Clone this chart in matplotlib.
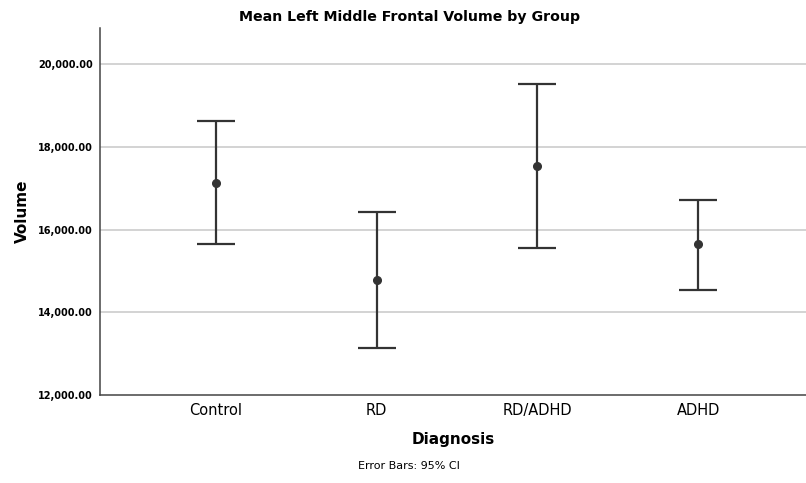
import matplotlib.pyplot as plt
from matplotlib.ticker import FuncFormatter

groups = ['Control', 'RD', 'RD/ADHD', 'ADHD']
means = [17135, 14770, 17540, 15660]
ci_low = [15640, 13130, 15560, 14530]
ci_high = [18630, 16435, 19520, 16725]

fig = plt.figure(figsize=(8.06, 4.83), dpi=100)
ax = fig.add_axes([0.124, 0.182, 0.876, 0.76])

x = list(range(len(groups)))
err = [[m - lo for m, lo in zip(means, ci_low)],
       [hi - m for m, hi in zip(means, ci_high)]]
ax.errorbar(x, means, yerr=err, fmt='o', color='#333333', ecolor='#333333',
            markersize=5.5, elinewidth=1.6, capsize=13.5, capthick=1.6, zorder=3)

ax.set_xlim(-0.72, 3.67)
ax.set_ylim(12000, 20870)
ax.set_yticks([12000, 14000, 16000, 18000, 20000])
ax.yaxis.set_major_formatter(FuncFormatter(lambda v, p: f'{v:,.2f}'))
ax.set_xticks(x)
ax.set_xticklabels(groups, fontsize=10.5)
for t in ax.get_yticklabels():
    t.set_fontsize(7)
    t.set_fontweight('bold')
ax.tick_params(length=0)
ax.tick_params(axis='y', pad=5)
ax.tick_params(axis='x', pad=6)

for y in [14000, 16000, 18000, 20000]:
    ax.axhline(y, color='#c8c8c8', linewidth=1.1, zorder=1)

for s in ['top', 'right']:
    ax.spines[s].set_visible(False)
for s in ['left', 'bottom']:
    ax.spines[s].set_color('#444444')
    ax.spines[s].set_linewidth(1.1)

fig.text(0.508, 0.965, 'Mean Left Middle Frontal Volume by Group', fontsize=10.2,
         fontweight='bold', ha='center', va='center')
ax.set_ylabel('Volume', fontsize=11, fontweight='bold', labelpad=6)
ax.set_xlabel('Diagnosis', fontsize=11, fontweight='bold', labelpad=10)
fig.text(0.507, 0.03, 'Error Bars: 95% CI', fontsize=8, ha='center')

fig.savefig('out.png', dpi=100)
